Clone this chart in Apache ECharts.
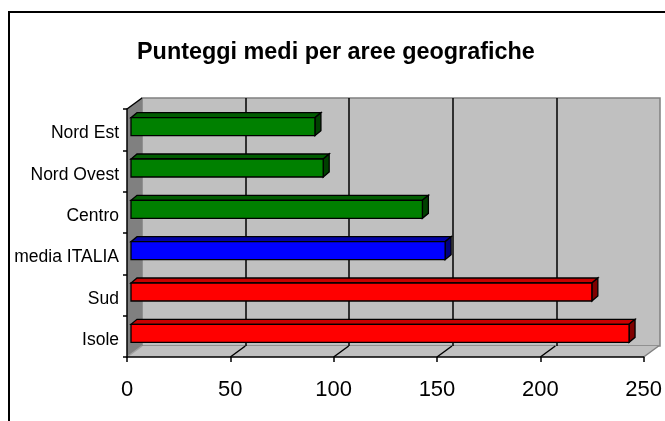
<!DOCTYPE html>
<html>
<head>
<meta charset="utf-8">
<script src="https://cdn.jsdelivr.net/npm/echarts@6/dist/echarts.min.js"></script>
<style>html,body{margin:0;padding:0;background:#fff}#c{width:665px;height:421px}</style>
</head>
<body>
<div id="c"></div>
<script>
// ---- data ----
const title = 'Punteggi medi per aree geografiche';
const categories = ['Isole', 'Sud', 'media ITALIA', 'Centro', 'Nord Ovest', 'Nord Est'];
const values = [241, 223, 152, 141, 93, 89];
const groups = ['sud', 'sud', 'italia', 'nord', 'nord', 'nord'];
const xTicks = [0, 50, 100, 150, 200, 250];

// ---- styles ----
const FONT = 'Liberation Sans, Arial, sans-serif';
const palette = {
  nord:   { front: '#008000', top: '#005c00', side: '#004000' },
  italia: { front: '#0000ff', top: '#0000a8', side: '#000080' },
  sud:    { front: '#ff0000', top: '#c80000', side: '#800000' }
};
const DX = 15, DY = -11;          // wall depth
const BOX = 4, BOY = -3;          // bar front-face offset
const BDX = 6, BDY = -5;          // bar depth
const XMIN = xTicks[0], XMAX = xTicks[xTicks.length - 1], XINT = xTicks[1] - xTicks[0];

const chart = echarts.init(document.getElementById('c'), null, { renderer: 'canvas' });

function wallsItem(params, api) {
  const cs = params.coordSys;
  const x = cs.x, y = cs.y, w = cs.width, h = cs.height;
  const children = [];
  children.push({ type: 'polygon', shape: { points: [[x, y + h], [x + w, y + h], [x + w + DX, y + h + DY], [x + DX, y + h + DY]] },
    style: { fill: '#c0c0c0', stroke: null } });
  children.push({ type: 'polygon', shape: { points: [[x, y], [x, y + h], [x + DX, y + h + DY], [x + DX, y + DY]] },
    style: { fill: '#808080', stroke: null } });
  xTicks.forEach(function (v) {
    const px = api.coord([v, 0])[0];
    const edge = (v === XMIN || v === XMAX);
    children.push({ type: 'line', shape: { x1: px, y1: y + h, x2: px + DX, y2: y + h + DY },
      style: { stroke: edge ? (v === XMAX ? '#808080' : '#a0a0a0') : '#000', lineWidth: 1.5 } });
  });
  children.push({ type: 'line', shape: { x1: x, y1: y, x2: x + DX, y2: y + DY }, style: { stroke: '#000', lineWidth: 1.5 } });
  return { type: 'group', children: children };
}

function barItem(params, api) {
  const idx = api.value(1), v = api.value(0);
  const s = api.coord([0, idx]), e = api.coord([v, idx]);
  const bh = api.size([0, 1])[1] * 0.435;
  const x0 = s[0] + BOX, x1 = e[0] + BOX, yc = s[1] + BOY;
  const t = yc - bh / 2, b = yc + bh / 2;
  const c = palette[groups[params.dataIndex]];
  const lw = 1.3;
  return { type: 'group', children: [
    { type: 'polygon', shape: { points: [[x0, t], [x1, t], [x1 + BDX, t + BDY], [x0 + BDX, t + BDY]] },
      style: { fill: c.top, stroke: '#000', lineWidth: lw } },
    { type: 'polygon', shape: { points: [[x1, t], [x1, b], [x1 + BDX, b + BDY], [x1 + BDX, t + BDY]] },
      style: { fill: c.side, stroke: '#000', lineWidth: lw } },
    { type: 'rect', shape: { x: x0, y: t, width: x1 - x0, height: bh },
      style: { fill: c.front, stroke: '#000', lineWidth: lw } }
  ] };
}

chart.setOption({
  animation: false,
  backgroundColor: '#fff',
  title: { text: title, left: 137, top: 41, padding: 0,
    textStyle: { fontFamily: FONT, fontSize: 23.4, fontWeight: 'bold', color: '#000' } },
  graphic: [{ type: 'rect', shape: { x: 9, y: 12, width: 720, height: 480 }, style: { fill: null, stroke: '#000', lineWidth: 2 }, z: 100 }],
  grid: [
    { left: 127, top: 109, width: 518, height: 248, containLabel: false },
    { left: 127 + DX, top: 109 + DY, width: 518, height: 248, show: true, backgroundColor: '#c0c0c0', borderColor: '#808080', borderWidth: 1.5, z: -1 }
  ],
  xAxis: [
    { type: 'value', gridIndex: 0, min: XMIN, max: XMAX, interval: XINT, z: 10,
      axisLine: { show: true, lineStyle: { color: '#000', width: 1.5 } },
      axisTick: { show: true, length: 5, lineStyle: { color: '#000', width: 1.5 } },
      axisLabel: { margin: 22, fontFamily: FONT, fontSize: 22, color: '#000' },
      splitLine: { show: false } },
    { type: 'value', gridIndex: 1, min: XMIN, max: XMAX, interval: XINT,
      axisLine: { show: false }, axisTick: { show: false }, axisLabel: { show: false },
      splitLine: { show: true, showMinLine: false, showMaxLine: false, lineStyle: { color: '#000', width: 1.5 } } }
  ],
  yAxis: [
    { type: 'category', gridIndex: 0, data: categories, z: 10,
      axisLine: { show: true, lineStyle: { color: '#000', width: 1.5 } },
      axisTick: { show: true, length: 4, lineStyle: { color: '#000', width: 1.5 } },
      axisLabel: { margin: 8, verticalAlign: 'top', lineHeight: 8, fontFamily: FONT, fontSize: 17.5, color: '#000' } },
    { type: 'value', gridIndex: 1, show: false, splitLine: { show: false } }
  ],
  series: [
    { type: 'custom', xAxisIndex: 0, yAxisIndex: 0, z: 1, silent: true, renderItem: wallsItem, data: [[0, 0]] },
    { type: 'custom', xAxisIndex: 0, yAxisIndex: 0, z: 3, renderItem: barItem,
      encode: { x: 0, y: 1 }, data: values.map(function (v, i) { return [v, i]; }) }
  ]
});
</script>
</body>
</html>
